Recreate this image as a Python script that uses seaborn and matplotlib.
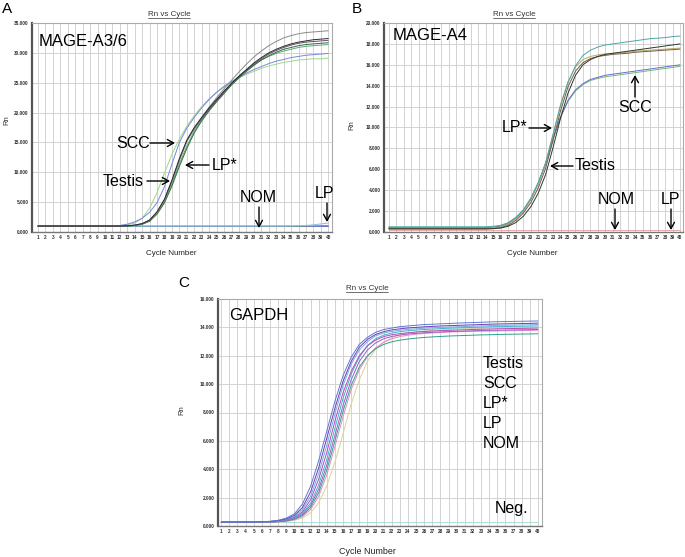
import matplotlib
matplotlib.use("Agg")
import matplotlib.pyplot as plt
import pandas as pd
import seaborn as sns
from matplotlib.lines import Line2D
from matplotlib.patches import FancyArrowPatch

sns.set_theme(style="white")
plt.rcParams['font.family'] = ['Liberation Sans', 'DejaVu Sans']

# ---------------- data (Rn values in thousands) ----------------
cycles = list(range(1, 41))

# Panel A: MAGE-A3/6
A_scc_blue = [1.0,1.0,1.0,1.0,1.0,1.0,1.0,1.0,1.0,1.0,1.0,1.1,1.3,1.7,2.3,3.3,4.9,7.6,11.4,15.0,
              17.4,19.2,20.8,22.2,23.4,24.4,25.2,25.9,26.6,27.2,27.7,28.2,28.6,28.9,29.2,29.4,29.6,29.7,29.8,29.9]
A_scc_lgreen = [1.0,1.0,1.0,1.0,1.0,1.0,1.0,1.0,1.0,1.0,1.0,1.05,1.2,1.5,2.3,4.0,6.6,9.9,13.0,15.6,
                17.7,19.5,21.0,22.3,23.4,24.3,25.1,25.8,26.4,26.9,27.4,27.8,28.1,28.4,28.6,28.8,28.9,29.0,29.0,29.1]
A_testis_black = [1.0,1.0,1.0,1.0,1.0,1.0,1.0,1.0,1.0,1.0,1.0,1.0,1.05,1.15,1.4,2.0,3.4,5.5,8.7,12.3,
                  15.4,17.5,19.2,20.8,22.2,23.6,24.9,26.1,27.2,28.3,29.2,30.0,30.6,31.1,31.5,31.8,32.0,32.2,32.3,32.4]
A_gray = [1.0,1.0,1.0,1.0,1.0,1.0,1.0,1.0,1.0,1.0,1.0,1.0,1.05,1.12,1.35,1.9,3.2,5.3,8.4,12.0,
          15.2,17.4,19.2,20.9,22.5,24.0,25.4,26.8,28.1,29.3,30.3,31.2,31.9,32.5,32.9,33.2,33.4,33.5,33.6,33.7]
A_purple = [1.0,1.0,1.0,1.0,1.0,1.0,1.0,1.0,1.0,1.0,1.0,1.0,1.05,1.15,1.4,2.0,3.3,5.4,8.5,12.1,
            15.2,17.3,19.0,20.6,22.0,23.4,24.8,26.0,27.1,28.1,29.0,29.8,30.4,30.9,31.3,31.6,31.8,31.9,32.0,32.1]
A_lpstar_dgreen = [1.0,1.0,1.0,1.0,1.0,1.0,1.0,1.0,1.0,1.0,1.0,1.0,1.0,1.1,1.3,1.8,3.0,4.9,7.7,11.0,
                   14.0,16.6,18.6,20.3,21.8,23.2,24.6,25.8,26.9,27.9,28.8,29.5,30.1,30.6,30.9,31.2,31.4,31.5,31.6,31.7]
A_mgreen = [1.0,1.0,1.0,1.0,1.0,1.0,1.0,1.0,1.0,1.0,1.0,1.0,1.02,1.1,1.32,1.85,3.1,5.1,8.0,11.4,
            14.4,16.9,18.8,20.5,22.0,23.5,24.9,26.1,27.1,28.0,28.8,29.4,29.9,30.3,30.6,30.9,31.1,31.2,31.3,31.4]
A_nom = [1.05,1.05,1.05,1.05,1.05,1.05,1.05,1.05,1.05,1.05,1.05,1.05,1.05,1.05,1.05,1.05,1.05,1.05,1.05,1.05,
         1.05,1.05,1.05,1.05,1.05,1.05,1.05,1.05,1.05,1.05,1.05,1.05,1.05,1.05,1.05,1.05,1.05,1.05,1.05,1.05]
A_lp_blue = [1.0,1.0,1.0,1.0,1.0,1.0,1.0,1.0,1.0,1.0,1.0,1.0,1.0,1.0,1.0,1.0,1.0,1.0,1.0,1.0,
             1.0,1.0,1.0,1.0,1.0,1.0,1.0,1.0,1.0,1.0,1.0,1.0,1.0,1.0,1.02,1.05,1.1,1.2,1.35,1.5]
A_lp_green = [1.0,1.0,1.0,1.0,1.0,1.0,1.0,1.0,1.0,1.0,1.0,1.0,1.0,1.0,1.0,1.0,1.0,1.0,1.0,1.0,
              1.0,1.0,1.0,1.0,1.0,1.0,1.0,1.0,1.0,1.0,1.0,1.0,1.0,1.0,1.0,1.0,1.02,1.04,1.07,1.1]
A_red = [0.0,0.0,0.0,0.0,0.0,0.0,0.0,0.0,0.0,0.0,0.0,0.0,0.0,0.0,0.0,0.0,0.0,0.0,0.0,0.0,
         0.0,0.0,0.0,0.0,0.0,0.0,0.0,0.0,0.0,0.0,0.0,0.0,0.0,0.0,0.0,0.0,0.0,0.0,0.0,0.0]

# Panel B: MAGE-A4
B_teal = [0.5,0.5,0.5,0.5,0.5,0.5,0.5,0.5,0.5,0.5,0.5,0.5,0.5,0.5,0.55,0.65,0.9,1.4,2.1,3.2,
          4.7,6.6,9.3,12.1,14.3,15.9,16.9,17.4,17.7,17.9,18.0,18.1,18.2,18.3,18.4,18.5,18.55,18.6,18.7,18.75]
B_dark = [0.3,0.3,0.3,0.3,0.3,0.3,0.3,0.3,0.3,0.3,0.3,0.3,0.3,0.3,0.32,0.38,0.55,0.9,1.5,2.4,
          3.7,5.5,8.1,10.9,13.3,15.0,16.0,16.5,16.8,17.0,17.1,17.2,17.3,17.4,17.5,17.6,17.7,17.8,17.9,18.0]
B_brown = [0.3,0.3,0.3,0.3,0.3,0.3,0.3,0.3,0.3,0.3,0.3,0.3,0.3,0.3,0.33,0.42,0.65,1.1,1.8,2.8,
           4.2,6.1,8.8,11.6,13.9,15.4,16.2,16.6,16.8,16.9,17.0,17.05,17.1,17.2,17.25,17.3,17.35,17.4,17.45,17.5]
B_khaki = [0.35,0.35,0.35,0.35,0.35,0.35,0.35,0.35,0.35,0.35,0.35,0.35,0.35,0.35,0.4,0.5,0.75,1.25,2.0,3.1,
           4.6,6.6,9.4,12.2,14.4,15.8,16.5,16.8,16.95,17.05,17.1,17.15,17.2,17.3,17.35,17.4,17.45,17.5,17.55,17.6]
B_scc_blue = [0.4,0.4,0.4,0.4,0.4,0.4,0.4,0.4,0.4,0.4,0.4,0.4,0.4,0.4,0.45,0.55,0.8,1.3,2.0,3.1,
              4.6,6.5,8.9,11.0,12.6,13.6,14.2,14.6,14.8,15.0,15.1,15.2,15.3,15.4,15.5,15.6,15.7,15.8,15.9,16.0]
B_scc_green = [0.42,0.42,0.42,0.42,0.42,0.42,0.42,0.42,0.42,0.42,0.42,0.42,0.42,0.42,0.47,0.58,0.85,1.35,2.1,3.2,
               4.7,6.6,9.0,11.0,12.5,13.5,14.1,14.5,14.7,14.85,14.95,15.05,15.15,15.25,15.35,15.45,15.55,15.65,15.75,15.85]
B_red = [0.2,0.2,0.2,0.2,0.2,0.2,0.2,0.2,0.2,0.2,0.2,0.2,0.2,0.2,0.2,0.2,0.2,0.2,0.2,0.2,
         0.2,0.2,0.2,0.2,0.2,0.2,0.2,0.2,0.2,0.2,0.2,0.2,0.2,0.2,0.2,0.2,0.2,0.2,0.2,0.2]

# Panel C: GAPDH
C_blue = [0.28,0.28,0.28,0.28,0.28,0.30,0.33,0.40,0.55,0.85,1.55,2.8,4.6,6.7,8.8,10.6,11.9,12.8,13.3,13.65,
          13.85,13.95,14.05,14.1,14.15,14.2,14.22,14.25,14.27,14.3,14.32,14.34,14.36,14.38,14.4,14.41,14.42,14.43,14.44,14.45]
C_purple = [0.28,0.28,0.28,0.28,0.28,0.30,0.32,0.38,0.5,0.75,1.3,2.4,4.1,6.2,8.3,10.2,11.6,12.6,13.15,13.5,
            13.7,13.82,13.9,13.96,14.0,14.04,14.07,14.1,14.12,14.14,14.16,14.18,14.2,14.22,14.24,14.25,14.26,14.27,14.28,14.3]
C_lblue = [0.27,0.27,0.27,0.27,0.27,0.29,0.31,0.36,0.47,0.68,1.15,2.1,3.7,5.7,7.9,9.9,11.4,12.4,13.0,13.4,
           13.6,13.72,13.8,13.86,13.9,13.94,13.97,14.0,14.02,14.04,14.06,14.08,14.1,14.12,14.14,14.15,14.16,14.17,14.18,14.2]
C_magenta = [0.27,0.27,0.27,0.27,0.27,0.28,0.30,0.34,0.43,0.62,1.0,1.85,3.3,5.2,7.4,9.4,10.9,12.0,12.7,13.1,
             13.35,13.48,13.56,13.62,13.67,13.71,13.74,13.77,13.79,13.81,13.83,13.85,13.87,13.88,13.9,13.91,13.92,13.93,13.94,13.95]
C_cyan = [0.26,0.26,0.26,0.26,0.26,0.27,0.29,0.33,0.41,0.57,0.9,1.6,2.9,4.7,6.9,9.0,10.7,11.9,12.7,13.2,
          13.45,13.6,13.7,13.76,13.81,13.85,13.88,13.91,13.94,13.96,13.98,14.0,14.02,14.04,14.05,14.06,14.07,14.08,14.09,14.1]
C_violet = [0.26,0.26,0.26,0.26,0.26,0.27,0.28,0.31,0.38,0.52,0.82,1.45,2.6,4.3,6.4,8.5,10.3,11.6,12.4,12.9,
            13.2,13.36,13.46,13.53,13.58,13.62,13.65,13.68,13.7,13.72,13.74,13.76,13.78,13.79,13.8,13.81,13.82,13.83,13.84,13.85]
C_teal = [0.26,0.26,0.26,0.26,0.26,0.27,0.28,0.30,0.36,0.48,0.74,1.3,2.35,3.95,6.0,8.1,9.9,11.2,12.0,12.5,
          12.8,12.98,13.1,13.18,13.24,13.29,13.33,13.36,13.39,13.41,13.43,13.45,13.47,13.48,13.5,13.51,13.52,13.53,13.54,13.55]
C_pink = [0.25,0.25,0.25,0.25,0.25,0.26,0.27,0.29,0.34,0.44,0.66,1.15,2.1,3.6,5.6,7.7,9.6,11.0,11.95,12.55,
          12.95,13.2,13.35,13.45,13.52,13.57,13.61,13.64,13.67,13.69,13.71,13.72,13.73,13.74,13.75,13.76,13.77,13.78,13.79,13.8]
C_khaki = [0.25,0.25,0.25,0.25,0.25,0.26,0.27,0.28,0.32,0.4,0.56,0.92,1.65,2.85,4.5,6.5,8.6,10.3,11.6,12.45,
           12.95,13.28,13.47,13.6,13.68,13.74,13.78,13.82,13.85,13.88,13.9,13.92,13.94,13.96,13.97,13.98,13.99,14.0,14.0,14.0]
C_neg_cyan = [0.28,0.28,0.28,0.28,0.28,0.28,0.28,0.28,0.28,0.28,0.28,0.28,0.28,0.28,0.28,0.28,0.28,0.28,0.28,0.28,
              0.28,0.28,0.28,0.28,0.28,0.28,0.28,0.28,0.28,0.28,0.28,0.28,0.28,0.28,0.28,0.28,0.28,0.28,0.28,0.28]
C_neg_green = [0.0,0.0,0.0,0.0,0.0,0.0,0.0,0.0,0.0,0.0,0.0,0.0,0.0,0.0,0.0,0.0,0.0,0.0,0.0,0.0,
               0.0,0.0,0.0,0.0,0.0,0.0,0.0,0.0,0.0,0.0,0.0,0.0,0.0,0.0,0.0,0.0,0.0,0.0,0.0,0.0]

A_yticks = [0, 5, 10, 15, 20, 25, 30, 35]
A_yticklabels = ["0.000", "5.000", "10.000", "15.000", "20.000", "25.000", "30.000", "35.000"]
B_yticks = [0, 2, 4, 6, 8, 10, 12, 14, 16, 18, 20]
B_yticklabels = ["0.000", "2.000", "4.000", "6.000", "8.000", "10.000", "12.000", "14.000", "16.000", "18.000", "20.000"]
C_yticks = [0, 2, 4, 6, 8, 10, 12, 14, 16]
C_yticklabels = ["0.000", "2.000", "4.000", "6.000", "8.000", "10.000", "12.000", "14.000", "16.000"]
x_ticklabels = [str(c) for c in cycles]

A_series = [("A_red", A_red, "#9a3030"), ("A_nom", A_nom, "#7a6cd0"),
            ("A_lp_green", A_lp_green, "#5aa860"), ("A_lp_blue", A_lp_blue, "#8cc0e8"),
            ("A_scc_lgreen", A_scc_lgreen, "#9ed88a"), ("A_scc_blue", A_scc_blue, "#7a86dc"),
            ("A_mgreen", A_mgreen, "#5aa878"), ("A_lpstar_dgreen", A_lpstar_dgreen, "#2f6f3a"),
            ("A_purple", A_purple, "#6a4a78"), ("A_gray", A_gray, "#8a8a8a"),
            ("A_testis_black", A_testis_black, "#2a2a2a")]
B_series = [("B_red", B_red, "#e8aaaa"),
            ("B_scc_green", B_scc_green, "#6cbc6c"), ("B_scc_blue", B_scc_blue, "#6a6ad6"),
            ("B_khaki", B_khaki, "#b8aa66"), ("B_brown", B_brown, "#7a5848"),
            ("B_dark", B_dark, "#2a3a2e"), ("B_teal", B_teal, "#48a8a8")]
C_series = [("C_neg_cyan", C_neg_cyan, "#a8dcd4"),
            ("C_khaki", C_khaki, "#dcd296"), ("C_pink", C_pink, "#e08ec8"),
            ("C_teal", C_teal, "#30a088"), ("C_violet", C_violet, "#9a5cc8"),
            ("C_cyan", C_cyan, "#3cb4c8"), ("C_magenta", C_magenta, "#b04cb8"),
            ("C_lblue", C_lblue, "#7aa8e8"), ("C_purple", C_purple, "#6a40b0"),
            ("C_blue", C_blue, "#5a7ad8"), ("C_neg_green", C_neg_green, "#2e8b57")]

# ---------------- figure ----------------
W, H = 685, 557
fig = plt.figure(figsize=(W / 100, H / 100), dpi=100)
fig.patch.set_facecolor("white")


def fx(x, y):
    return (x / W, 1 - y / H)


def make_axes(l, t, r, b):
    return fig.add_axes([l / W, 1 - b / H, (r - l) / W, (b - t) / H])


def draw_panel(ax, series, xlim, ylim, yticks, yticklabels, ylab_xy, xlab_xy, xlab_fs):
    frames = []
    for name, vals, _ in series:
        frames.append(pd.DataFrame({"cycle": cycles, "rn": vals, "sample": name}))
    df = pd.concat(frames, ignore_index=True)
    pal = {name: col for name, _, col in series}
    order = [name for name, _, _ in series]
    sns.lineplot(data=df, x="cycle", y="rn", hue="sample", hue_order=order,
                 palette=pal, legend=False, linewidth=0.7, estimator=None,
                 ax=ax)
    ax.set_xlim(*xlim)
    ax.set_ylim(*ylim)
    ax.set_xticks(cycles)
    ax.set_xticklabels(x_ticklabels)
    ax.set_yticks(yticks)
    ax.set_yticklabels(yticklabels)
    ax.tick_params(axis="both", length=0, labelsize=3.4, pad=2.5, labelcolor="#333333")
    for lbl in ax.get_xticklabels() + ax.get_yticklabels():
        lbl.set_fontweight("bold")
    ax.grid(True, color="#d2d2d2", linewidth=0.7)
    ax.set_axisbelow(True)
    ax.set_facecolor("white")
    ax.spines["left"].set_color("#555555")
    ax.spines["left"].set_linewidth(1.6)
    ax.spines["bottom"].set_color("#777777")
    ax.spines["bottom"].set_linewidth(1.0)
    for s in ("top", "right"):
        ax.spines[s].set_color("#aaaaaa")
        ax.spines[s].set_linewidth(0.8)
    ax.set_ylabel("Rn", fontsize=5.5, color="#333333")
    ax.yaxis.set_label_coords(*ylab_xy)
    ax.set_xlabel("Cycle Number", fontsize=xlab_fs, color="#222222")
    ax.xaxis.set_label_coords(*xlab_xy)


axA = make_axes(32, 23, 332, 232)
axB = make_axes(384, 23, 683, 232)
axC = make_axes(218, 299, 542, 526)

draw_panel(axA, A_series, (0.2, 40.5), (0, 35), A_yticks, A_yticklabels,
           (-0.073, 0.536), (0.463, -0.088), 5.8)
draw_panel(axB, B_series, (0.35, 40.4), (0, 20), B_yticks, B_yticklabels,
           (-0.097, 0.51), (0.495, -0.088), 5.8)
draw_panel(axC, C_series, (0.6, 40.5), (0, 16), C_yticks, C_yticklabels,
           (-0.10, 0.51), (0.46, -0.093), 6.4)


def txt(x, y, s, fs=11.5, ha="left", va="center", color="black"):
    return fig.text(*fx(x, y), s, fontsize=fs, ha=ha, va=va, color=color)


def arrow(x0, y0, x1, y1):
    fig.add_artist(FancyArrowPatch(fx(x0, y0), fx(x1, y1), transform=fig.transFigure,
                                   arrowstyle="->,head_length=0.45,head_width=0.25",
                                   mutation_scale=10, lw=1.0, color="black",
                                   shrinkA=0, shrinkB=0))


# panel letters
txt(2, 9, "A", fs=11)
txt(352, 9, "B", fs=11)
txt(178, 283, "C", fs=11)

# titles (underlined)
titles = [txt(169, 15, "Rn vs Cycle", fs=5.8, ha="center", color="#333333"),
          txt(514, 15, "Rn vs Cycle", fs=5.8, ha="center", color="#333333"),
          txt(367, 289, "Rn vs Cycle", fs=5.8, ha="center", color="#333333")]

# gene names
txt(39, 41, "MAGE-A3/6", fs=12)
txt(393, 35, "MAGE-A4", fs=12)
txt(229, 315, "GAPDH", fs=12)

# Panel A annotations
txt(116, 143, "SCC")
arrow(150, 143, 175, 143)
txt(212, 165, "LP*")
arrow(209, 165, 185, 165)
txt(103, 181, "Testis")
arrow(147, 181, 170, 181)
txt(258, 197, "NOM", ha="center")
arrow(259, 207, 259, 228)
txt(325, 193, "LP", ha="center")
arrow(327, 203, 327, 222)

# Panel B annotations
txt(635, 107, "SCC", ha="center")
arrow(635, 97, 635, 75)
txt(502, 128, "LP*")
arrow(529, 128, 552, 128)
txt(575, 166, "Testis")
arrow(573, 166, 550, 166)
txt(616, 199, "NOM", ha="center")
arrow(615, 209, 615, 230)
txt(671, 199, "LP", ha="center")
arrow(671, 209, 671, 230)

# Panel C labels
for yy, s in zip([363, 384, 404, 423, 443], ["Testis", "SCC", "LP*", "LP", "NOM"]):
    txt(483, yy, s)
txt(495, 509, "Neg.")

# underline titles
fig.canvas.draw()
for t in titles:
    bb = t.get_window_extent()
    yline = (bb.y0 + 0.3) / H
    fig.add_artist(Line2D([bb.x0 / W, bb.x1 / W], [yline, yline], transform=fig.transFigure,
                          color="#333333", linewidth=0.5))

fig.savefig("out.png", dpi=100)
